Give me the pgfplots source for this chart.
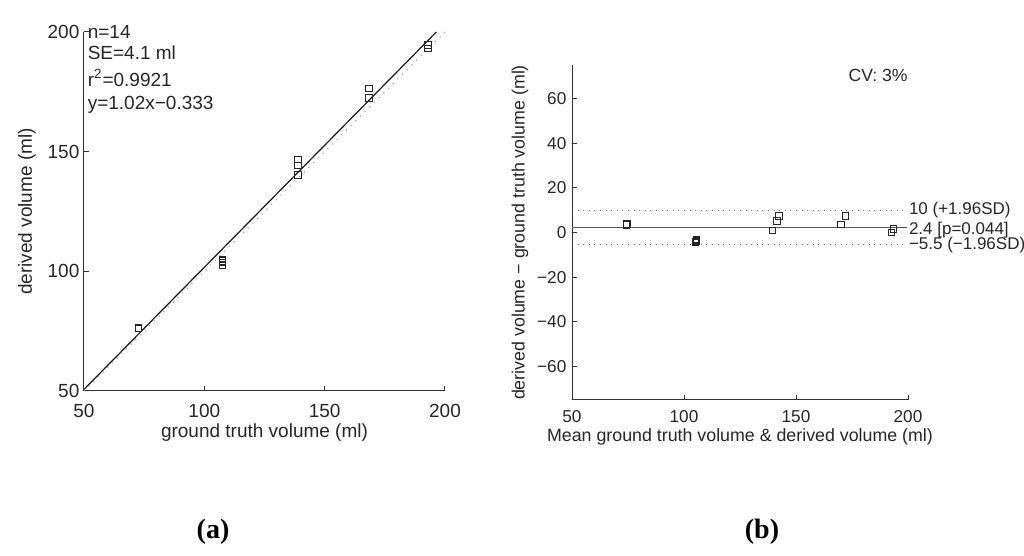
\documentclass[border=0pt]{standalone}
\usepackage{pgfplots}
\usepackage{pgfplotstable}
\pgfplotsset{compat=1.18}
\usepackage{fontspec}
\setmainfont{Liberation Sans}
\newfontfamily\serifbold{Liberation Serif}

\pgfplotstableread{
gt derived
72.7 76.0
72.7 76.4
72.7 76.2
107.5 105.0
107.5 103.8
107.5 102.6
107.5 104.3
139 146.7
139 144.3
139 140.3
168.5 176.3
168.5 172.4
193 194.5
193 193.0
}\scatterdata

\pgfplotstableread{
mean diff
74.4 3.5
74.5 3.8
74.4 3.4
105.0 -4.6
105.7 -3.1
105.6 -3.5
105.3 -4.0
139.4 0.9
141.5 5.2
142.4 7.3
170.1 3.7
172.2 7.3
192.7 -0.1
193.6 1.5
}\badata

\begin{document}
\begin{tikzpicture}[font=\fontsize{9.5}{11.5}\selectfont]
\path[use as bounding box] (0,0) rectangle (512pt,278pt);
\pgfplotsset{
  mystyle/.style={
    scale only axis,
    axis x line=bottom, axis y line=left,
    axis line style={-, draw=black!80, line width=0.5pt},
    tick align=inside, major tick length=2.5pt,
    tick style={draw=black!80, line width=0.5pt},
    /pgf/number format/assume math mode=true,
    tick label style={font=\fontsize{9.5}{11.5}\selectfont, text=black!85},
    label style={font=\fontsize{9.5}{11.5}\selectfont, text=black!85},
    clip=false,
  },
}
% (a)
\begin{axis}[mystyle,
  at={(42pt,82.5pt)}, anchor=south west,
  width=180.5pt, height=179.5pt,
  xmin=50, xmax=200, ymin=50, ymax=200,
  xtick={50,100,150,200}, ytick={50,100,150,200},
  xticklabel style={yshift=-3.2pt},
  yticklabel style={xshift=1.2pt},
  xlabel={ground truth volume (ml)},
  ylabel={derived volume (ml)},
  xlabel style={at={(axis description cs:0.5,-0.117)}, anchor=center},
  ylabel style={at={(axis description cs:-0.158,0.5)}, anchor=center},
]
\addplot[black!40, line width=0.6pt, dash pattern=on 0.5pt off 2.8pt] coordinates {(50,50) (200,200)};
\addplot[black!90, line width=0.6pt] coordinates {(50,50.67) (196.4,200)};
\addplot[only marks, mark=square, mark size=1.6pt, mark options={draw=black!85, line width=0.5pt}] table[x=gt, y=derived] {\scatterdata};
\node[anchor=base west, inner sep=0, text=black!85] at ([xshift=1.7pt, yshift=-3.15pt]rel axis cs:0,1) {n=14};
\node[anchor=base west, inner sep=0, text=black!85] at ([xshift=1.7pt, yshift=-14pt]rel axis cs:0,1) {SE=4.1 ml};
\node[anchor=base west, inner sep=0, text=black!85] at ([xshift=1.7pt, yshift=-27.3pt]rel axis cs:0,1) {r\textsuperscript{2}=0.9921};
\node[anchor=base west, inner sep=0, text=black!85] at ([xshift=1.7pt, yshift=-38.7pt]rel axis cs:0,1) {y=1.02x−0.333};
\end{axis}
% (b)
\begin{axis}[mystyle,
  at={(286pt,78pt)}, anchor=south west,
  width=168pt, height=167.5pt,
  xmin=50, xmax=200, ymin=-75, ymax=75,
  xtick={50,100,150,200},
  ytick={-60,-40,-20,0,20,40,60},
  yticklabels={−60,−40,−20,0,20,40,60},
  tick label style={font=\fontsize{8.6}{10.5}\selectfont},
  label style={font=\fontsize{8.9}{10.5}\selectfont},
  xticklabel style={yshift=-1.7pt},
  yticklabel style={xshift=0.7pt},
  xlabel={Mean ground truth volume \& derived volume (ml)},
  ylabel={derived volume − ground truth volume (ml)},
  xlabel style={at={(axis description cs:0.5,-0.110)}, anchor=center},
  ylabel style={at={(axis description cs:-0.155,0.5)}, anchor=center},
]
\addplot[black!65, line width=0.6pt] coordinates {(50,2.4) (199.5,2.4)};
\addplot[black!60, line width=0.6pt, dash pattern=on 0.5pt off 2.3pt] coordinates {(50,10) (199.5,10)};
\addplot[black!60, line width=0.6pt, dash pattern=on 0.5pt off 2.3pt] coordinates {(50,-5.5) (199.5,-5.5)};
\addplot[only marks, mark=square, mark size=1.6pt, mark options={draw=black!85, line width=0.5pt}] table[x=mean, y=diff] {\badata};
\node[anchor=west, inner sep=0.3pt, text=black!85, font=\fontsize{8.5}{10}\selectfont] at (axis cs:200,10) {10 (+1.96SD)};
\node[anchor=west, inner sep=0.3pt, text=black!85, font=\fontsize{8.5}{10}\selectfont] at (axis cs:200,0.9) {2.4 [p=0.044]};
\node[anchor=west, inner sep=0.3pt, text=black!85, font=\fontsize{8.5}{10}\selectfont] at (axis cs:200,-5.5) {−5.5 (−1.96SD)};
\node[anchor=north east, inner sep=0, text=black!85, font=\fontsize{8.8}{10}\selectfont] at ([yshift=-2pt]rel axis cs:1,1) {CV: 3\%};
\end{axis}
\node[font=\serifbold\bfseries\fontsize{14}{16}\selectfont] at (106.5pt,12.15pt) {(a)};
\node[font=\serifbold\bfseries\fontsize{14}{16}\selectfont] at (381pt,12.15pt) {(b)};
\end{tikzpicture}
\end{document}
